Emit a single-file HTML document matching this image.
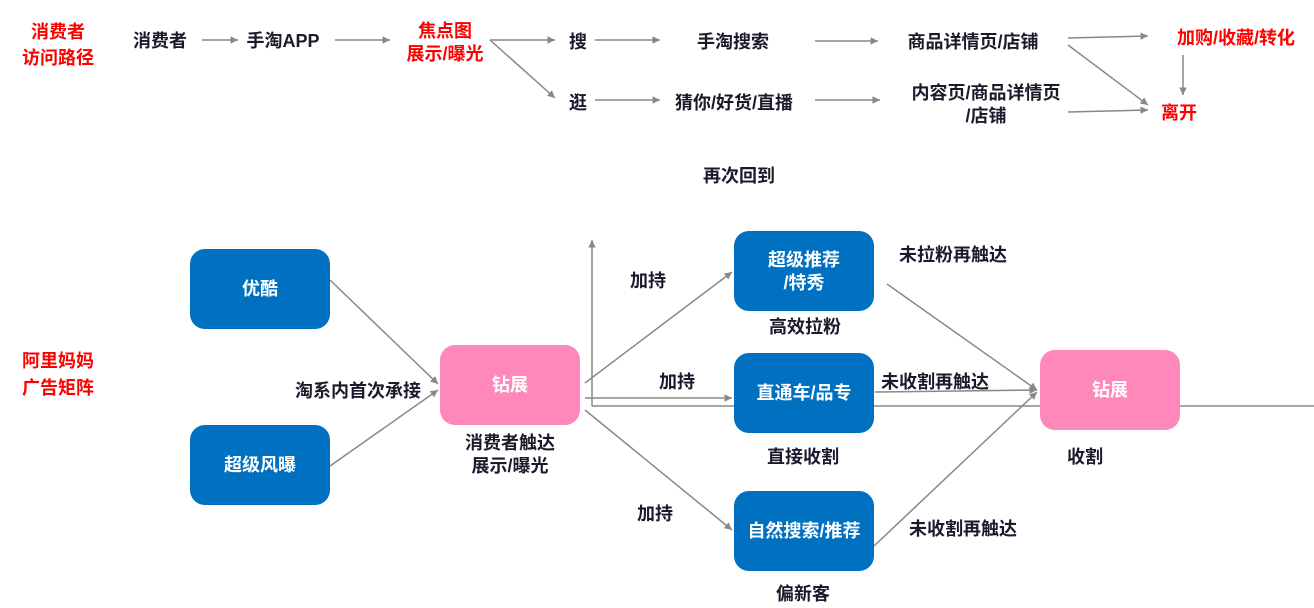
<html><head><style>body{margin:0;background:#fff}text{font-family:"Liberation Sans","Noto Sans CJK SC",sans-serif;font-weight:bold;font-size:18px}</style></head><body>
<svg width="1314" height="608" xmlns="http://www.w3.org/2000/svg">
<defs><marker id="a" markerWidth="6" markerHeight="6" refX="5" refY="2.5" orient="auto"><path d="M0,0L5,2.5L0,5z" fill="#888"/></marker></defs>
<g stroke="#888" stroke-width="1.5" fill="none" marker-end="url(#a)">
<line x1="202" y1="40" x2="238" y2="40"/><line x1="335" y1="40" x2="390" y2="40"/>
<line x1="490" y1="40" x2="555" y2="40"/><line x1="490" y1="40" x2="555" y2="98"/>
<line x1="595" y1="40" x2="660" y2="40"/><line x1="815" y1="41" x2="878" y2="41"/>
<line x1="1068" y1="38" x2="1148" y2="36"/><line x1="1183" y1="55" x2="1183" y2="95"/>
<line x1="1068" y1="45" x2="1148" y2="105"/><line x1="1068" y1="112" x2="1148" y2="110"/>
<line x1="595" y1="100" x2="660" y2="100"/><line x1="815" y1="100" x2="880" y2="100"/>
<line x1="330" y1="280" x2="438" y2="384"/><line x1="330" y1="466" x2="438" y2="390"/>
<line x1="585" y1="383" x2="732" y2="272"/><line x1="585" y1="398" x2="732" y2="398"/>
<line x1="585" y1="410" x2="732" y2="530"/><line x1="592" y1="406" x2="592" y2="240"/>
<line x1="887" y1="284" x2="1037" y2="390"/><line x1="875" y1="392" x2="1037" y2="390"/>
<line x1="874" y1="546" x2="1037" y2="392"/>
</g>
<line x1="592" y1="406" x2="1314" y2="406" stroke="#888" stroke-width="1.5"/>
<g fill="#0070C0"><rect x="190" y="249" width="140" height="80" rx="15"/><rect x="190" y="425" width="140" height="80" rx="15"/>
<rect x="734" y="231" width="140" height="80" rx="15"/><rect x="734" y="353" width="140" height="80" rx="15"/><rect x="734" y="491" width="140" height="80" rx="15"/></g>
<g fill="#FF88BB"><rect x="440" y="345" width="140" height="80" rx="15"/><rect x="1040" y="350" width="140" height="80" rx="15"/></g>
<g fill="#fff" text-anchor="middle" font-size="17">
<text x="260" y="295">优酷</text><text x="260" y="471">超级风曝</text><text x="510" y="391">钻展</text><text x="1110" y="396">钻展</text>
<text x="804" y="266">超级推荐</text><text x="804" y="289">/特秀</text><text x="804" y="399">直通车/品专</text><text x="804" y="537">自然搜索/推荐</text></g>
<g fill="#F00" text-anchor="middle" font-size="21"><text x="58" y="38">消费者</text><text x="58" y="64">访问路径</text><text x="58" y="367">阿里妈妈</text><text x="58" y="394">广告矩阵</text>
<text x="445" y="37">焦点图</text><text x="445" y="60">展示/曝光</text><text x="1236" y="44">加购/收藏/转化</text><text x="1179" y="119">离开</text></g>
<g fill="#1a1a2a" text-anchor="middle" font-size="19">
<text x="160" y="47">消费者</text><text x="283" y="47">手淘APP</text><text x="578" y="48">搜</text><text x="578" y="109">逛</text>
<text x="733" y="48">手淘搜索</text><text x="973" y="48">商品详情页/店铺</text><text x="734" y="109">猜你/好货/直播</text>
<text x="986" y="99">内容页/商品详情页</text><text x="986" y="122">/店铺</text><text x="739" y="182">再次回到</text></g>
<g fill="#1a1a2a" text-anchor="middle">
<text x="358" y="397">淘系内首次承接</text><text x="510" y="449">消费者触达</text><text x="510" y="472">展示/曝光</text>
<text x="648" y="287">加持</text><text x="677" y="388">加持</text><text x="655" y="520">加持</text>
<text x="805" y="333">高效拉粉</text><text x="803" y="463">直接收割</text><text x="803" y="600">偏新客</text>
<text x="953" y="261">未拉粉再触达</text><text x="935" y="388">未收割再触达</text><text x="963" y="535">未收割再触达</text><text x="1085" y="463">收割</text>
</g></svg></body></html>
